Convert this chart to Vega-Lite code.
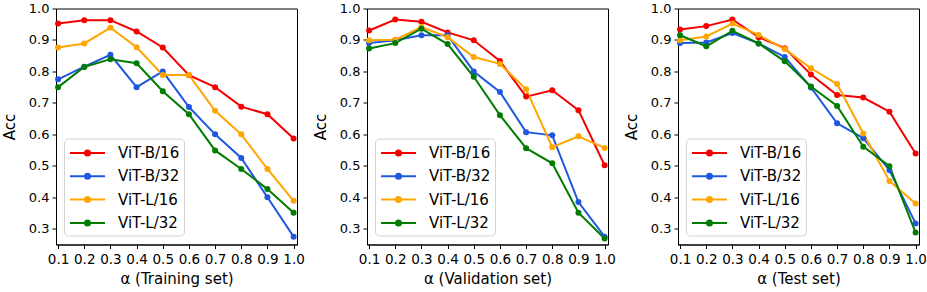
{
  "$schema": "https://vega.github.io/schema/vega-lite/v6.json",
  "background": "white",
  "padding": {"left": 1, "top": 1.5, "right": 0, "bottom": 0},
  "spacing": 70,
  "bounds": "flush",
  "resolve": {"legend": {"color": "independent"}},
  "datasets": {
    "acc": [
      {"set": "Training", "model": "ViT-B/16", "alpha": 0.1, "acc": 0.952},
      {"set": "Training", "model": "ViT-B/16", "alpha": 0.2, "acc": 0.963},
      {"set": "Training", "model": "ViT-B/16", "alpha": 0.3, "acc": 0.963},
      {"set": "Training", "model": "ViT-B/16", "alpha": 0.4, "acc": 0.927},
      {"set": "Training", "model": "ViT-B/16", "alpha": 0.5, "acc": 0.876},
      {"set": "Training", "model": "ViT-B/16", "alpha": 0.6, "acc": 0.788},
      {"set": "Training", "model": "ViT-B/16", "alpha": 0.7, "acc": 0.750},
      {"set": "Training", "model": "ViT-B/16", "alpha": 0.8, "acc": 0.688},
      {"set": "Training", "model": "ViT-B/16", "alpha": 0.9, "acc": 0.664},
      {"set": "Training", "model": "ViT-B/16", "alpha": 1.0, "acc": 0.587},
      {"set": "Training", "model": "ViT-B/32", "alpha": 0.1, "acc": 0.775},
      {"set": "Training", "model": "ViT-B/32", "alpha": 0.2, "acc": 0.815},
      {"set": "Training", "model": "ViT-B/32", "alpha": 0.3, "acc": 0.853},
      {"set": "Training", "model": "ViT-B/32", "alpha": 0.4, "acc": 0.750},
      {"set": "Training", "model": "ViT-B/32", "alpha": 0.5, "acc": 0.800},
      {"set": "Training", "model": "ViT-B/32", "alpha": 0.6, "acc": 0.687},
      {"set": "Training", "model": "ViT-B/32", "alpha": 0.7, "acc": 0.600},
      {"set": "Training", "model": "ViT-B/32", "alpha": 0.8, "acc": 0.525},
      {"set": "Training", "model": "ViT-B/32", "alpha": 0.9, "acc": 0.400},
      {"set": "Training", "model": "ViT-B/32", "alpha": 1.0, "acc": 0.275},
      {"set": "Training", "model": "ViT-L/16", "alpha": 0.1, "acc": 0.876},
      {"set": "Training", "model": "ViT-L/16", "alpha": 0.2, "acc": 0.889},
      {"set": "Training", "model": "ViT-L/16", "alpha": 0.3, "acc": 0.939},
      {"set": "Training", "model": "ViT-L/16", "alpha": 0.4, "acc": 0.877},
      {"set": "Training", "model": "ViT-L/16", "alpha": 0.5, "acc": 0.789},
      {"set": "Training", "model": "ViT-L/16", "alpha": 0.6, "acc": 0.789},
      {"set": "Training", "model": "ViT-L/16", "alpha": 0.7, "acc": 0.675},
      {"set": "Training", "model": "ViT-L/16", "alpha": 0.8, "acc": 0.600},
      {"set": "Training", "model": "ViT-L/16", "alpha": 0.9, "acc": 0.490},
      {"set": "Training", "model": "ViT-L/16", "alpha": 1.0, "acc": 0.389},
      {"set": "Training", "model": "ViT-L/32", "alpha": 0.1, "acc": 0.750},
      {"set": "Training", "model": "ViT-L/32", "alpha": 0.2, "acc": 0.814},
      {"set": "Training", "model": "ViT-L/32", "alpha": 0.3, "acc": 0.839},
      {"set": "Training", "model": "ViT-L/32", "alpha": 0.4, "acc": 0.826},
      {"set": "Training", "model": "ViT-L/32", "alpha": 0.5, "acc": 0.737},
      {"set": "Training", "model": "ViT-L/32", "alpha": 0.6, "acc": 0.664},
      {"set": "Training", "model": "ViT-L/32", "alpha": 0.7, "acc": 0.549},
      {"set": "Training", "model": "ViT-L/32", "alpha": 0.8, "acc": 0.490},
      {"set": "Training", "model": "ViT-L/32", "alpha": 0.9, "acc": 0.426},
      {"set": "Training", "model": "ViT-L/32", "alpha": 1.0, "acc": 0.351},
      {"set": "Validation", "model": "ViT-B/16", "alpha": 0.1, "acc": 0.930},
      {"set": "Validation", "model": "ViT-B/16", "alpha": 0.2, "acc": 0.965},
      {"set": "Validation", "model": "ViT-B/16", "alpha": 0.3, "acc": 0.958},
      {"set": "Validation", "model": "ViT-B/16", "alpha": 0.4, "acc": 0.924},
      {"set": "Validation", "model": "ViT-B/16", "alpha": 0.5, "acc": 0.899},
      {"set": "Validation", "model": "ViT-B/16", "alpha": 0.6, "acc": 0.833},
      {"set": "Validation", "model": "ViT-B/16", "alpha": 0.7, "acc": 0.720},
      {"set": "Validation", "model": "ViT-B/16", "alpha": 0.8, "acc": 0.740},
      {"set": "Validation", "model": "ViT-B/16", "alpha": 0.9, "acc": 0.677},
      {"set": "Validation", "model": "ViT-B/16", "alpha": 1.0, "acc": 0.502},
      {"set": "Validation", "model": "ViT-B/32", "alpha": 0.1, "acc": 0.890},
      {"set": "Validation", "model": "ViT-B/32", "alpha": 0.2, "acc": 0.899},
      {"set": "Validation", "model": "ViT-B/32", "alpha": 0.3, "acc": 0.915},
      {"set": "Validation", "model": "ViT-B/32", "alpha": 0.4, "acc": 0.915},
      {"set": "Validation", "model": "ViT-B/32", "alpha": 0.5, "acc": 0.800},
      {"set": "Validation", "model": "ViT-B/32", "alpha": 0.6, "acc": 0.735},
      {"set": "Validation", "model": "ViT-B/32", "alpha": 0.7, "acc": 0.607},
      {"set": "Validation", "model": "ViT-B/32", "alpha": 0.8, "acc": 0.597},
      {"set": "Validation", "model": "ViT-B/32", "alpha": 0.9, "acc": 0.385},
      {"set": "Validation", "model": "ViT-B/32", "alpha": 1.0, "acc": 0.275},
      {"set": "Validation", "model": "ViT-L/16", "alpha": 0.1, "acc": 0.899},
      {"set": "Validation", "model": "ViT-L/16", "alpha": 0.2, "acc": 0.901},
      {"set": "Validation", "model": "ViT-L/16", "alpha": 0.3, "acc": 0.941},
      {"set": "Validation", "model": "ViT-L/16", "alpha": 0.4, "acc": 0.909},
      {"set": "Validation", "model": "ViT-L/16", "alpha": 0.5, "acc": 0.846},
      {"set": "Validation", "model": "ViT-L/16", "alpha": 0.6, "acc": 0.824},
      {"set": "Validation", "model": "ViT-L/16", "alpha": 0.7, "acc": 0.743},
      {"set": "Validation", "model": "ViT-L/16", "alpha": 0.8, "acc": 0.559},
      {"set": "Validation", "model": "ViT-L/16", "alpha": 0.9, "acc": 0.594},
      {"set": "Validation", "model": "ViT-L/16", "alpha": 1.0, "acc": 0.557},
      {"set": "Validation", "model": "ViT-L/32", "alpha": 0.1, "acc": 0.873},
      {"set": "Validation", "model": "ViT-L/32", "alpha": 0.2, "acc": 0.890},
      {"set": "Validation", "model": "ViT-L/32", "alpha": 0.3, "acc": 0.936},
      {"set": "Validation", "model": "ViT-L/32", "alpha": 0.4, "acc": 0.887},
      {"set": "Validation", "model": "ViT-L/32", "alpha": 0.5, "acc": 0.783},
      {"set": "Validation", "model": "ViT-L/32", "alpha": 0.6, "acc": 0.661},
      {"set": "Validation", "model": "ViT-L/32", "alpha": 0.7, "acc": 0.556},
      {"set": "Validation", "model": "ViT-L/32", "alpha": 0.8, "acc": 0.508},
      {"set": "Validation", "model": "ViT-L/32", "alpha": 0.9, "acc": 0.351},
      {"set": "Validation", "model": "ViT-L/32", "alpha": 1.0, "acc": 0.269},
      {"set": "Test", "model": "ViT-B/16", "alpha": 0.1, "acc": 0.933},
      {"set": "Test", "model": "ViT-B/16", "alpha": 0.2, "acc": 0.944},
      {"set": "Test", "model": "ViT-B/16", "alpha": 0.3, "acc": 0.965},
      {"set": "Test", "model": "ViT-B/16", "alpha": 0.4, "acc": 0.909},
      {"set": "Test", "model": "ViT-B/16", "alpha": 0.5, "acc": 0.874},
      {"set": "Test", "model": "ViT-B/16", "alpha": 0.6, "acc": 0.790},
      {"set": "Test", "model": "ViT-B/16", "alpha": 0.7, "acc": 0.725},
      {"set": "Test", "model": "ViT-B/16", "alpha": 0.8, "acc": 0.717},
      {"set": "Test", "model": "ViT-B/16", "alpha": 0.9, "acc": 0.672},
      {"set": "Test", "model": "ViT-B/16", "alpha": 1.0, "acc": 0.539},
      {"set": "Test", "model": "ViT-B/32", "alpha": 0.1, "acc": 0.890},
      {"set": "Test", "model": "ViT-B/32", "alpha": 0.2, "acc": 0.892},
      {"set": "Test", "model": "ViT-B/32", "alpha": 0.3, "acc": 0.922},
      {"set": "Test", "model": "ViT-B/32", "alpha": 0.4, "acc": 0.889},
      {"set": "Test", "model": "ViT-B/32", "alpha": 0.5, "acc": 0.846},
      {"set": "Test", "model": "ViT-B/32", "alpha": 0.6, "acc": 0.749},
      {"set": "Test", "model": "ViT-B/32", "alpha": 0.7, "acc": 0.635},
      {"set": "Test", "model": "ViT-B/32", "alpha": 0.8, "acc": 0.588},
      {"set": "Test", "model": "ViT-B/32", "alpha": 0.9, "acc": 0.486},
      {"set": "Test", "model": "ViT-B/32", "alpha": 1.0, "acc": 0.317},
      {"set": "Test", "model": "ViT-L/16", "alpha": 0.1, "acc": 0.899},
      {"set": "Test", "model": "ViT-L/16", "alpha": 0.2, "acc": 0.911},
      {"set": "Test", "model": "ViT-L/16", "alpha": 0.3, "acc": 0.952},
      {"set": "Test", "model": "ViT-L/16", "alpha": 0.4, "acc": 0.916},
      {"set": "Test", "model": "ViT-L/16", "alpha": 0.5, "acc": 0.871},
      {"set": "Test", "model": "ViT-L/16", "alpha": 0.6, "acc": 0.810},
      {"set": "Test", "model": "ViT-L/16", "alpha": 0.7, "acc": 0.760},
      {"set": "Test", "model": "ViT-L/16", "alpha": 0.8, "acc": 0.603},
      {"set": "Test", "model": "ViT-L/16", "alpha": 0.9, "acc": 0.452},
      {"set": "Test", "model": "ViT-L/16", "alpha": 1.0, "acc": 0.380},
      {"set": "Test", "model": "ViT-L/32", "alpha": 0.1, "acc": 0.915},
      {"set": "Test", "model": "ViT-L/32", "alpha": 0.2, "acc": 0.880},
      {"set": "Test", "model": "ViT-L/32", "alpha": 0.3, "acc": 0.929},
      {"set": "Test", "model": "ViT-L/32", "alpha": 0.4, "acc": 0.889},
      {"set": "Test", "model": "ViT-L/32", "alpha": 0.5, "acc": 0.832},
      {"set": "Test", "model": "ViT-L/32", "alpha": 0.6, "acc": 0.752},
      {"set": "Test", "model": "ViT-L/32", "alpha": 0.7, "acc": 0.690},
      {"set": "Test", "model": "ViT-L/32", "alpha": 0.8, "acc": 0.561},
      {"set": "Test", "model": "ViT-L/32", "alpha": 0.9, "acc": 0.499},
      {"set": "Test", "model": "ViT-L/32", "alpha": 1.0, "acc": 0.288}
    ]
  },
  "data": {"name": "acc"},
  "hconcat": [
    {
      "width": 241, "height": 236,
      "transform": [{"filter": "datum.set === 'Training'"}],
      "mark": {"type": "line", "strokeWidth": 2, "point": {"size": 36, "filled": true}},
      "encoding": {
        "x": {"field": "alpha", "type": "quantitative", "scale": {"domain": [0.092, 1.013], "nice": false, "zero": false}, "axis": {"values": [0.1, 0.2, 0.3, 0.4, 0.5, 0.6, 0.7, 0.8, 0.9, 1.0], "format": ".1f", "title": "α (Training set)"}},
        "y": {"field": "acc", "type": "quantitative", "scale": {"domain": [0.25, 1.0], "nice": false, "zero": false}, "axis": {"values": [0.3, 0.4, 0.5, 0.6, 0.7, 0.8, 0.9, 1.0], "format": ".1f", "title": "Acc", "minExtent": 29, "maxExtent": 29}},
        "color": {"field": "model", "type": "nominal", "scale": {"domain": ["ViT-B/16", "ViT-B/32", "ViT-L/16", "ViT-L/32"], "range": ["#f50000", "#1f58e0", "#ffa500", "#007d00"]}, "legend": {"title": null, "orient": "none", "legendX": 8, "legendY": 130}}
      }
    },
    {
      "width": 241, "height": 236,
      "transform": [{"filter": "datum.set === 'Validation'"}],
      "mark": {"type": "line", "strokeWidth": 2, "point": {"size": 36, "filled": true}},
      "encoding": {
        "x": {"field": "alpha", "type": "quantitative", "scale": {"domain": [0.092, 1.013], "nice": false, "zero": false}, "axis": {"values": [0.1, 0.2, 0.3, 0.4, 0.5, 0.6, 0.7, 0.8, 0.9, 1.0], "format": ".1f", "title": "α (Validation set)"}},
        "y": {"field": "acc", "type": "quantitative", "scale": {"domain": [0.25, 1.0], "nice": false, "zero": false}, "axis": {"values": [0.3, 0.4, 0.5, 0.6, 0.7, 0.8, 0.9, 1.0], "format": ".1f", "title": "Acc", "minExtent": 29, "maxExtent": 29}},
        "color": {"field": "model", "type": "nominal", "scale": {"domain": ["ViT-B/16", "ViT-B/32", "ViT-L/16", "ViT-L/32"], "range": ["#f50000", "#1f58e0", "#ffa500", "#007d00"]}, "legend": {"title": null, "orient": "none", "legendX": 8, "legendY": 130}}
      }
    },
    {
      "width": 241, "height": 236,
      "transform": [{"filter": "datum.set === 'Test'"}],
      "mark": {"type": "line", "strokeWidth": 2, "point": {"size": 36, "filled": true}},
      "encoding": {
        "x": {"field": "alpha", "type": "quantitative", "scale": {"domain": [0.092, 1.013], "nice": false, "zero": false}, "axis": {"values": [0.1, 0.2, 0.3, 0.4, 0.5, 0.6, 0.7, 0.8, 0.9, 1.0], "format": ".1f", "title": "α (Test set)"}},
        "y": {"field": "acc", "type": "quantitative", "scale": {"domain": [0.25, 1.0], "nice": false, "zero": false}, "axis": {"values": [0.3, 0.4, 0.5, 0.6, 0.7, 0.8, 0.9, 1.0], "format": ".1f", "title": "Acc", "minExtent": 29, "maxExtent": 29}},
        "color": {"field": "model", "type": "nominal", "scale": {"domain": ["ViT-B/16", "ViT-B/32", "ViT-L/16", "ViT-L/32"], "range": ["#f50000", "#1f58e0", "#ffa500", "#007d00"]}, "legend": {"title": null, "orient": "none", "legendX": 8, "legendY": 130}}
      }
    }
  ],
  "config": {
    "font": "DejaVu Sans",
    "view": {"stroke": "black", "strokeWidth": 1},
    "axis": {
      "grid": false,
      "domainColor": "black",
      "domainWidth": 1,
      "tickColor": "black",
      "tickSize": 4,
      "tickWidth": 1,
      "labelColor": "black",
      "labelFontSize": 13,
      "labelFont": "DejaVu Sans",
      "titleColor": "black",
      "titleFontSize": 15,
      "titleFont": "DejaVu Sans",
      "titleFontWeight": "normal"
    },
    "axisX": {"labelPadding": 3.5, "titlePadding": 6, "labelFontSize": 13.5},
    "axisY": {"labelPadding": 3, "titlePadding": 10},
    "legend": {
      "fillColor": "white",
      "strokeColor": "#d4d4d4",
      "strokeWidth": 1,
      "cornerRadius": 4,
      "padding": 4.5,
      "rowPadding": 5.3,
      "symbolSize": 324,
      "symbolStrokeWidth": 2,
      "symbolType": "M-0.944,0H2.944M0.722,0a0.278,0.278 0 1,0 0.556,0a0.278,0.278 0 1,0 -0.556,0M0.889,0a0.111,0.111 0 1,0 0.222,0a0.111,0.111 0 1,0 -0.222,0",
      "labelFontSize": 15,
      "labelFont": "DejaVu Sans",
      "labelColor": "black",
      "labelOffset": 29.5,
      "labelLimit": 200
    }
  }
}
